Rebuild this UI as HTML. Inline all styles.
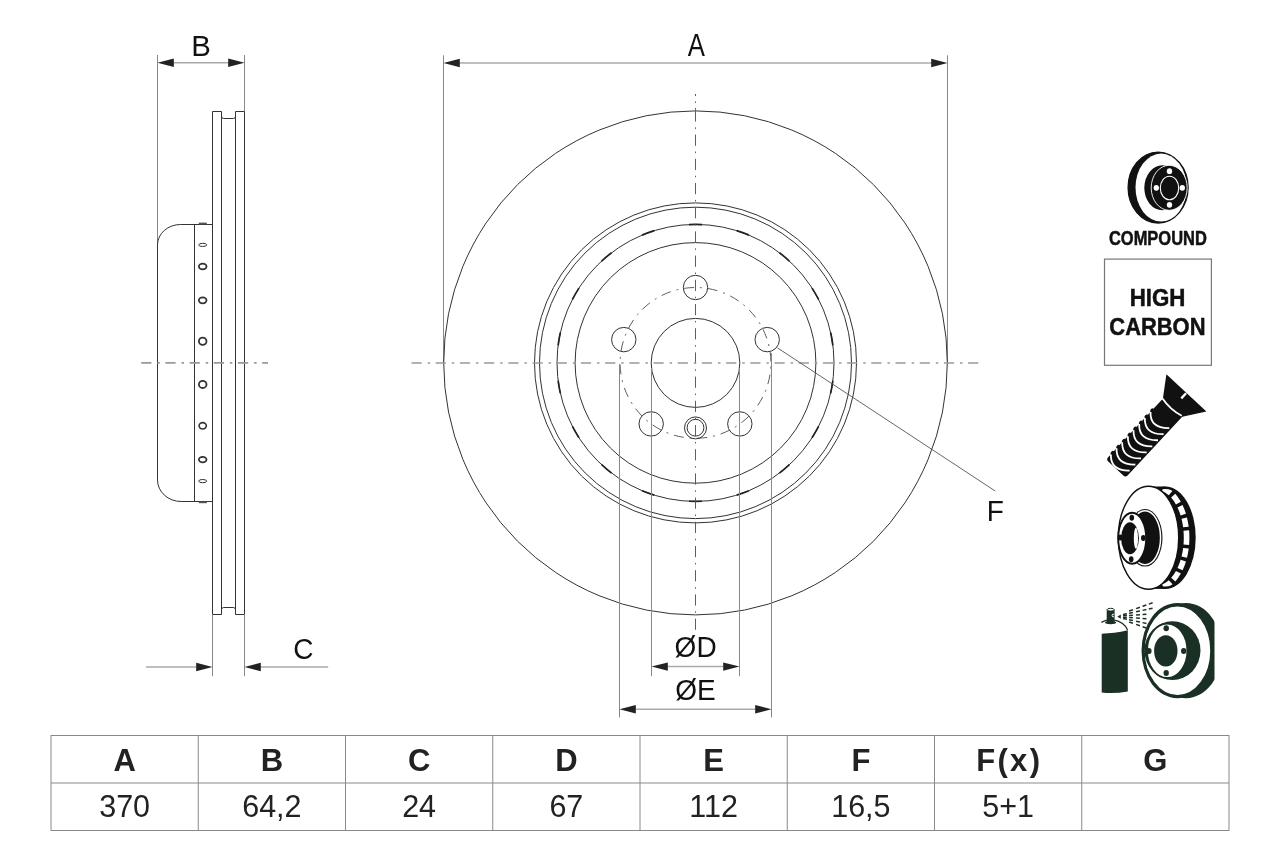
<!DOCTYPE html>
<html><head><meta charset="utf-8"><style>
html,body{margin:0;padding:0;background:#fff;width:1280px;height:853px;overflow:hidden}
svg{display:block;will-change:transform}
text{font-family:"Liberation Sans",sans-serif;fill:#111}
.lbl{font-size:28px}
.th{font-size:31px;font-weight:bold;fill:#222;letter-spacing:2.3px}
.td{font-size:30.5px;fill:#222}
.ic{font-size:19.5px;font-weight:bold;stroke:#111;stroke-width:0.5px}
.hc{font-size:24.5px;font-weight:bold;stroke:#111;stroke-width:0.5px}
</style></head><body>
<svg width="1280" height="853" viewBox="0 0 1280 853">
<rect width="1280" height="853" fill="#fff"/>
<line x1="157.5" y1="55" x2="157.5" y2="246" stroke="#888" stroke-width="1"/>
<line x1="244.5" y1="55" x2="244.5" y2="111.5" stroke="#888" stroke-width="1"/>
<line x1="170" y1="62.8" x2="232" y2="62.8" stroke="#aaaaaa" stroke-width="1.5"/>
<path d="M157.50,62.80 L173.80,58.60 L173.80,67.00 Z" fill="#222"/>
<path d="M244.50,62.80 L228.20,58.60 L228.20,67.00 Z" fill="#222"/>
<text class="lbl" text-anchor="middle" transform="translate(201,55.6) scale(1.05,1.08)">B</text>
<path d="M212.5,111.5 H221.5 V116.3 Q221.5,118.5 223.7,118.5 H233.3 Q235.5,118.5 235.5,116.3 V111.5 H244.5 V614.5 H235.5 V609.7 Q235.5,607.5 233.3,607.5 H223.7 Q221.5,607.5 221.5,609.7 V614.5 H212.5 Z" fill="none" stroke="#333" stroke-width="1"/>
<line x1="221.5" y1="116" x2="221.5" y2="610" stroke="#333" stroke-width="1"/>
<line x1="235.5" y1="116" x2="235.5" y2="610" stroke="#333" stroke-width="1"/>
<path d="M212.5,224.5 H180.6 A23.1,20.3 0 0 0 157.5,244.8 V479.9 A23.6,21.6 0 0 0 181.1,501.5 H212.5" fill="none" stroke="#333" stroke-width="1"/>
<line x1="194.5" y1="224.3" x2="194.5" y2="501.5" stroke="#333" stroke-width="1"/>
<rect x="198.8" y="222.6" width="8" height="1.8" fill="#555"/>
<rect x="198.8" y="501.4" width="8" height="1.8" fill="#555"/>
<ellipse cx="202.7" cy="244.9" rx="4" ry="1.6" fill="none" stroke="#333" stroke-width="1"/>
<ellipse cx="202.7" cy="266.5" rx="3.8" ry="2.8" fill="none" stroke="#333" stroke-width="1.8"/>
<ellipse cx="202.7" cy="300.3" rx="3.8" ry="3" fill="none" stroke="#333" stroke-width="1.8"/>
<ellipse cx="202.7" cy="341.3" rx="3.8" ry="3.6" fill="none" stroke="#333" stroke-width="1.8"/>
<ellipse cx="202.7" cy="384.4" rx="3.8" ry="3.6" fill="none" stroke="#333" stroke-width="1.8"/>
<ellipse cx="202.7" cy="425.8" rx="3.6" ry="3.2" fill="none" stroke="#333" stroke-width="1.6"/>
<ellipse cx="202.7" cy="459.6" rx="3.8" ry="2.8" fill="none" stroke="#333" stroke-width="1.8"/>
<ellipse cx="202.7" cy="481.1" rx="4" ry="1.6" fill="none" stroke="#333" stroke-width="1"/>
<line x1="141.2" y1="362.9" x2="268" y2="362.9" stroke="#999" stroke-width="1.6" stroke-dasharray="10.2,5.9,2.5,5.6"/>
<line x1="212.5" y1="614.5" x2="212.5" y2="676.2" stroke="#888" stroke-width="1"/>
<line x1="244.5" y1="614.5" x2="244.5" y2="676.2" stroke="#888" stroke-width="1"/>
<line x1="146" y1="667" x2="200" y2="667" stroke="#aaaaaa" stroke-width="1.5"/>
<line x1="257" y1="667" x2="328.2" y2="667" stroke="#aaaaaa" stroke-width="1.5"/>
<path d="M212.50,667.00 L196.20,662.80 L196.20,671.20 Z" fill="#222"/>
<path d="M244.50,667.00 L260.80,662.80 L260.80,671.20 Z" fill="#222"/>
<text class="lbl" text-anchor="middle" transform="translate(303.4,658.8) scale(1.0,1.08)">C</text>
<line x1="443.5" y1="55.3" x2="443.5" y2="362.9" stroke="#888" stroke-width="1"/>
<line x1="947.5" y1="55.3" x2="947.5" y2="362.9" stroke="#888" stroke-width="1"/>
<line x1="455" y1="63" x2="936" y2="63" stroke="#aaaaaa" stroke-width="1.5"/>
<path d="M443.50,63.00 L459.80,58.80 L459.80,67.20 Z" fill="#222"/>
<path d="M947.50,63.00 L931.20,58.80 L931.20,67.20 Z" fill="#222"/>
<text class="lbl" text-anchor="middle" transform="translate(696.4,56) scale(0.92,1.09)">A</text>
<ellipse cx="695.5" cy="362.9" rx="251.8" ry="252.0" fill="none" stroke="#333" stroke-width="1"/>
<ellipse cx="695.5" cy="362.9" rx="161.0" ry="160.0" fill="none" stroke="#333" stroke-width="1"/>
<ellipse cx="695.5" cy="362.9" rx="156.0" ry="155.7" fill="none" stroke="#333" stroke-width="1"/>
<ellipse cx="695.5" cy="362.9" rx="138.5" ry="138.5" fill="none" stroke="#333" stroke-width="1"/>
<ellipse cx="695.5" cy="362.9" rx="120.4" ry="120.3" fill="none" stroke="#333" stroke-width="1"/>
<ellipse cx="695.5" cy="362.9" rx="44.3" ry="44.5" fill="none" stroke="#333" stroke-width="1"/>
<path d="M832.87,345.28 A138.5,138.5 0 0 0 830.62,332.48" fill="none" stroke="#222" stroke-width="1.7"/>
<path d="M818.56,299.35 A138.5,138.5 0 0 0 812.06,288.10" fill="none" stroke="#222" stroke-width="1.7"/>
<path d="M789.41,261.10 A138.5,138.5 0 0 0 779.45,252.74" fill="none" stroke="#222" stroke-width="1.7"/>
<path d="M748.92,235.12 A138.5,138.5 0 0 0 736.71,230.67" fill="none" stroke="#222" stroke-width="1.7"/>
<path d="M702.00,224.55 A138.5,138.5 0 0 0 689.00,224.55" fill="none" stroke="#222" stroke-width="1.7"/>
<path d="M654.29,230.67 A138.5,138.5 0 0 0 642.08,235.12" fill="none" stroke="#222" stroke-width="1.7"/>
<path d="M611.55,252.74 A138.5,138.5 0 0 0 601.59,261.10" fill="none" stroke="#222" stroke-width="1.7"/>
<path d="M578.94,288.10 A138.5,138.5 0 0 0 572.44,299.35" fill="none" stroke="#222" stroke-width="1.7"/>
<path d="M560.38,332.48 A138.5,138.5 0 0 0 558.13,345.28" fill="none" stroke="#222" stroke-width="1.7"/>
<path d="M558.13,380.52 A138.5,138.5 0 0 0 560.38,393.32" fill="none" stroke="#222" stroke-width="1.7"/>
<path d="M572.44,426.45 A138.5,138.5 0 0 0 578.94,437.70" fill="none" stroke="#222" stroke-width="1.7"/>
<path d="M601.59,464.70 A138.5,138.5 0 0 0 611.55,473.06" fill="none" stroke="#222" stroke-width="1.7"/>
<path d="M642.08,490.68 A138.5,138.5 0 0 0 654.29,495.13" fill="none" stroke="#222" stroke-width="1.7"/>
<path d="M689.00,501.25 A138.5,138.5 0 0 0 702.00,501.25" fill="none" stroke="#222" stroke-width="1.7"/>
<path d="M736.71,495.13 A138.5,138.5 0 0 0 748.92,490.68" fill="none" stroke="#222" stroke-width="1.7"/>
<path d="M779.45,473.06 A138.5,138.5 0 0 0 789.41,464.70" fill="none" stroke="#222" stroke-width="1.7"/>
<path d="M812.06,437.70 A138.5,138.5 0 0 0 818.56,426.45" fill="none" stroke="#222" stroke-width="1.7"/>
<path d="M830.62,393.32 A138.5,138.5 0 0 0 832.87,380.52" fill="none" stroke="#222" stroke-width="1.7"/>
<circle cx="695.5" cy="362.9" r="75.4" fill="none" stroke="#555" stroke-width="0.95" stroke-dasharray="9.9,5.9,2,5.89" stroke-dashoffset="12"/>
<circle cx="695.50" cy="287.50" r="12.2" fill="none" stroke="#333" stroke-width="1"/>
<circle cx="767.21" cy="339.60" r="12.2" fill="none" stroke="#333" stroke-width="1"/>
<circle cx="739.82" cy="423.90" r="12.2" fill="none" stroke="#333" stroke-width="1"/>
<circle cx="651.18" cy="423.90" r="12.2" fill="none" stroke="#333" stroke-width="1"/>
<circle cx="623.79" cy="339.60" r="12.2" fill="none" stroke="#333" stroke-width="1"/>
<circle cx="695.5" cy="427.9" r="11.0" fill="none" stroke="#333" stroke-width="1"/>
<circle cx="695.5" cy="427.7" r="8.4" fill="none" stroke="#333" stroke-width="1"/>
<line x1="695.5" y1="110.4" x2="695.5" y2="630" stroke="#555" stroke-width="0.95" stroke-dasharray="11.2,5.75,1.5,5.75"/>
<line x1="695.5" y1="94" x2="695.5" y2="110.4" stroke="#555" stroke-width="0.95" stroke-dasharray="2,5.4,1.5,5"/>
<line x1="411.5" y1="363" x2="978.7" y2="363" stroke="#999" stroke-width="1.6" stroke-dasharray="10.2,5.9,2.5,5.6"/>
<line x1="651.5" y1="368" x2="651.5" y2="676.2" stroke="#888" stroke-width="1"/>
<line x1="739.5" y1="368" x2="739.5" y2="676.2" stroke="#888" stroke-width="1"/>
<line x1="663" y1="666.6" x2="728" y2="666.6" stroke="#aaaaaa" stroke-width="1.5"/>
<path d="M651.50,666.60 L667.80,662.40 L667.80,670.80 Z" fill="#222"/>
<path d="M739.50,666.60 L723.20,662.40 L723.20,670.80 Z" fill="#222"/>
<line x1="619.5" y1="364" x2="619.5" y2="717.3" stroke="#888" stroke-width="1"/>
<line x1="771.5" y1="353" x2="771.5" y2="717.3" stroke="#888" stroke-width="1"/>
<line x1="631" y1="709.2" x2="760" y2="709.2" stroke="#aaaaaa" stroke-width="1.5"/>
<path d="M619.50,709.20 L635.80,705.00 L635.80,713.40 Z" fill="#222"/>
<path d="M771.50,709.20 L755.20,705.00 L755.20,713.40 Z" fill="#222"/>
<text class="lbl" text-anchor="middle" transform="translate(695.6,656.9) scale(1.0,1.05)">ØD</text>
<text class="lbl" text-anchor="middle" transform="translate(695.5,699.6) scale(1.0,1.05)">ØE</text>
<line x1="777.5" y1="347.9" x2="995.2" y2="491" stroke="#555" stroke-width="0.9"/>
<text class="lbl" text-anchor="middle" transform="translate(995.2,520.6) scale(1.0,1.05)">F</text>
<rect x="51.0" y="735.5" width="1178.00" height="95" fill="none" stroke="#8a8a8a" stroke-width="1"/>
<line x1="51.0" y1="783" x2="1229.0" y2="783" stroke="#8a8a8a" stroke-width="1"/>
<text x="125.78" y="770.5" class="th" text-anchor="middle">A</text>
<text x="124.62" y="817.2" class="td" text-anchor="middle">370</text>
<line x1="198.25" y1="735.5" x2="198.25" y2="830.5" stroke="#8a8a8a" stroke-width="1"/>
<text x="273.02" y="770.5" class="th" text-anchor="middle">B</text>
<text x="271.88" y="817.2" class="td" text-anchor="middle">64,2</text>
<line x1="345.50" y1="735.5" x2="345.50" y2="830.5" stroke="#8a8a8a" stroke-width="1"/>
<text x="420.27" y="770.5" class="th" text-anchor="middle">C</text>
<text x="419.12" y="817.2" class="td" text-anchor="middle">24</text>
<line x1="492.75" y1="735.5" x2="492.75" y2="830.5" stroke="#8a8a8a" stroke-width="1"/>
<text x="567.52" y="770.5" class="th" text-anchor="middle">D</text>
<text x="566.38" y="817.2" class="td" text-anchor="middle">67</text>
<line x1="640.00" y1="735.5" x2="640.00" y2="830.5" stroke="#8a8a8a" stroke-width="1"/>
<text x="714.77" y="770.5" class="th" text-anchor="middle">E</text>
<text x="713.62" y="817.2" class="td" text-anchor="middle">112</text>
<line x1="787.25" y1="735.5" x2="787.25" y2="830.5" stroke="#8a8a8a" stroke-width="1"/>
<text x="862.02" y="770.5" class="th" text-anchor="middle">F</text>
<text x="860.88" y="817.2" class="td" text-anchor="middle">16,5</text>
<line x1="934.50" y1="735.5" x2="934.50" y2="830.5" stroke="#8a8a8a" stroke-width="1"/>
<text x="1009.27" y="770.5" class="th" text-anchor="middle">F(x)</text>
<text x="1008.12" y="817.2" class="td" text-anchor="middle">5+1</text>
<line x1="1081.75" y1="735.5" x2="1081.75" y2="830.5" stroke="#8a8a8a" stroke-width="1"/>
<text x="1156.53" y="770.5" class="th" text-anchor="middle">G</text>
<g fill="#111">
<ellipse cx="1158.1" cy="187.6" rx="30.0" ry="35.5" stroke="#111" stroke-width="1.3"/>
<ellipse cx="1161.1" cy="187.6" rx="25.6" ry="34.0" fill="#fff"/>
<ellipse cx="1162.3" cy="187.8" rx="18" ry="22.5"/>
<ellipse cx="1169.2" cy="187.8" rx="18" ry="22.5" stroke="#fff" stroke-width="0.9"/>
<ellipse cx="1169.5" cy="188" rx="9.2" ry="11.8" fill="none" stroke="#fff" stroke-width="1.1"/>
<ellipse cx="1169.5" cy="171.2" rx="2.7" ry="2.9" fill="#fff"/>
<ellipse cx="1169.5" cy="204.8" rx="2.7" ry="2.9" fill="#fff"/>
<ellipse cx="1156.3" cy="187.8" rx="2.7" ry="2.9" fill="#fff"/>
<ellipse cx="1182.3" cy="187.8" rx="2.7" ry="2.9" fill="#fff"/>
</g>
<text x="0" y="0" class="ic" transform="translate(1157.9,244.6) scale(0.845,1)" text-anchor="middle">COMPOUND</text>
<rect x="1104.5" y="259.1" width="106.9" height="106.2" fill="none" stroke="#777" stroke-width="1.2"/>
<text x="0" y="0" class="hc" transform="translate(1157.5,306.1) scale(0.91,1)" text-anchor="middle">HIGH</text>
<text x="0" y="0" class="hc" transform="translate(1157.4,334.5) scale(0.895,1)" text-anchor="middle">CARBON</text>
<g fill="#111" transform="translate(1186.4,392.9) rotate(43)"><path d="M-27.35,0 L27.35,0 L13.3,20.2 L-13.3,20.2 Z"/><path d="M-13.3,19 H13.3 V100.5 Q13.3,103.5 10.3,103.5 H-10.3 Q-13.3,103.5 -13.3,100.5 Z"/><path d="M-13.9,20.4 Q0,23.5 12.2,19.9" fill="none" stroke="#fff" stroke-width="1.8"/><line x1="0" y1="0.5" x2="0" y2="7.5" stroke="#fff" stroke-width="2.3"/><ellipse cx="-13.2" cy="36.20" rx="1.6" ry="2.2"/><path d="M-13.3,38.40 Q-2.3,50.90 11.5,37.40" fill="none" stroke="#fff" stroke-width="1.8"/><ellipse cx="-13.2" cy="44.50" rx="1.6" ry="2.2"/><path d="M-13.3,46.70 Q-2.3,59.20 11.5,45.70" fill="none" stroke="#fff" stroke-width="1.8"/><ellipse cx="-13.2" cy="52.80" rx="1.6" ry="2.2"/><path d="M-13.3,55.00 Q-2.3,67.50 11.5,54.00" fill="none" stroke="#fff" stroke-width="1.8"/><ellipse cx="-13.2" cy="61.10" rx="1.6" ry="2.2"/><path d="M-13.3,63.30 Q-2.3,75.80 11.5,62.30" fill="none" stroke="#fff" stroke-width="1.8"/><ellipse cx="-13.2" cy="69.40" rx="1.6" ry="2.2"/><path d="M-13.3,71.60 Q-2.3,84.10 11.5,70.60" fill="none" stroke="#fff" stroke-width="1.8"/><ellipse cx="-13.2" cy="77.70" rx="1.6" ry="2.2"/><path d="M-13.3,79.90 Q-2.3,92.40 11.5,78.90" fill="none" stroke="#fff" stroke-width="1.8"/><ellipse cx="-13.2" cy="86.00" rx="1.6" ry="2.2"/><path d="M-13.3,88.20 Q-2.3,100.70 11.5,87.20" fill="none" stroke="#fff" stroke-width="1.8"/><ellipse cx="-13.2" cy="94.30" rx="1.6" ry="2.2"/><path d="M-13.3,96.50 Q-2.3,109.00 11.5,95.50" fill="none" stroke="#fff" stroke-width="1.8"/></g>
<g fill="#111">
<ellipse cx="1165.5" cy="537.7" rx="30.2" ry="51.2"/>
<rect x="1148.5" y="486.5" width="17" height="102.4"/>
<clipPath id="vc"><ellipse cx="1165.5" cy="537.7" rx="28.2" ry="48.8"/><rect x="1148.5" y="489.2" width="17" height="97"/></clipPath><ellipse cx="1156.4" cy="537.7" rx="30.2" ry="50.5" fill="none" stroke="#fff" stroke-width="5.6" stroke-dasharray="9,3.6" stroke-dashoffset="2" clip-path="url(#vc)"/>
<ellipse cx="1148.5" cy="537.7" rx="30.2" ry="51.5" fill="#fff" stroke="#111" stroke-width="1.4"/>
<ellipse cx="1145" cy="537.8" rx="17.5" ry="28.8"/>
<ellipse cx="1145" cy="537.8" rx="15.6" ry="27.0" fill="none" stroke="#fff" stroke-width="1.5"/>
<ellipse cx="1132.2" cy="538.2" rx="14" ry="25.5" fill="#fff" stroke="#111" stroke-width="1.9"/>
<ellipse cx="1130" cy="538.3" rx="8.9" ry="16"/>
<ellipse cx="1135.9" cy="538.3" rx="2.1" ry="10.5" fill="#fff"/>
<ellipse cx="1131.8" cy="517.7" rx="2.3" ry="3"/>
<ellipse cx="1131.2" cy="559.2" rx="2.3" ry="3"/>
<ellipse cx="1143.3" cy="538.1" rx="2.3" ry="3"/>
<ellipse cx="1120.3" cy="537.4" rx="2.3" ry="3"/>
</g>
<g fill="#1b3024">
<line x1="1123.10" y1="614.48" x2="1126.90" y2="613.69" stroke="#1b3024" stroke-width="1.5"/>
<line x1="1123.10" y1="615.83" x2="1126.90" y2="615.56" stroke="#1b3024" stroke-width="1.5"/>
<line x1="1123.10" y1="617.17" x2="1126.90" y2="617.44" stroke="#1b3024" stroke-width="1.5"/>
<line x1="1123.10" y1="618.52" x2="1126.90" y2="619.31" stroke="#1b3024" stroke-width="1.5"/>
<line x1="1129.10" y1="611.04" x2="1132.90" y2="609.71" stroke="#1b3024" stroke-width="1.5"/>
<line x1="1129.10" y1="613.22" x2="1132.90" y2="612.43" stroke="#1b3024" stroke-width="1.5"/>
<line x1="1129.10" y1="615.41" x2="1132.90" y2="615.14" stroke="#1b3024" stroke-width="1.5"/>
<line x1="1129.10" y1="617.59" x2="1132.90" y2="617.86" stroke="#1b3024" stroke-width="1.5"/>
<line x1="1129.10" y1="619.78" x2="1132.90" y2="620.57" stroke="#1b3024" stroke-width="1.5"/>
<line x1="1129.10" y1="621.96" x2="1132.90" y2="623.29" stroke="#1b3024" stroke-width="1.5"/>
<line x1="1136.10" y1="608.59" x2="1139.90" y2="607.26" stroke="#1b3024" stroke-width="1.5"/>
<line x1="1136.10" y1="611.75" x2="1139.90" y2="610.96" stroke="#1b3024" stroke-width="1.5"/>
<line x1="1136.10" y1="614.92" x2="1139.90" y2="614.65" stroke="#1b3024" stroke-width="1.5"/>
<line x1="1136.10" y1="618.08" x2="1139.90" y2="618.35" stroke="#1b3024" stroke-width="1.5"/>
<line x1="1136.10" y1="621.25" x2="1139.90" y2="622.04" stroke="#1b3024" stroke-width="1.5"/>
<line x1="1136.10" y1="624.41" x2="1139.90" y2="625.74" stroke="#1b3024" stroke-width="1.5"/>
<line x1="1142.60" y1="606.32" x2="1146.40" y2="604.99" stroke="#1b3024" stroke-width="1.5"/>
<line x1="1142.60" y1="610.39" x2="1146.40" y2="609.59" stroke="#1b3024" stroke-width="1.5"/>
<line x1="1142.60" y1="614.46" x2="1146.40" y2="614.20" stroke="#1b3024" stroke-width="1.5"/>
<line x1="1142.60" y1="618.54" x2="1146.40" y2="618.80" stroke="#1b3024" stroke-width="1.5"/>
<line x1="1142.60" y1="622.61" x2="1146.40" y2="623.41" stroke="#1b3024" stroke-width="1.5"/>
<line x1="1142.60" y1="626.68" x2="1146.40" y2="628.01" stroke="#1b3024" stroke-width="1.5"/>
<line x1="1148.80" y1="604.14" x2="1152.60" y2="602.81" stroke="#1b3024" stroke-width="1.5"/>
<line x1="1148.80" y1="609.09" x2="1152.60" y2="608.29" stroke="#1b3024" stroke-width="1.5"/>
<path d="M1117.3,616.7 L1120.8,614.6 L1120.8,618.8 Z"/>
<defs><clipPath id="cl"><rect x="1130" y="590" width="84.5" height="120"/></clipPath></defs>
<ellipse cx="1186" cy="650.6" rx="36" ry="47.6" clip-path="url(#cl)"/>
<ellipse cx="1177.3" cy="650.6" rx="35.8" ry="47.6"/>
<ellipse cx="1177.5" cy="650.7" rx="33.4" ry="45.0" fill="#fff" stroke="#1b3024" stroke-width="1.4"/>
<ellipse cx="1172.5" cy="650.6" rx="28" ry="29.4"/>
<ellipse cx="1167.2" cy="650.8" rx="20.2" ry="27.2" fill="#fff" stroke="#1b3024" stroke-width="1.8"/>
<ellipse cx="1165.8" cy="650.9" rx="11.7" ry="15.7"/>
<ellipse cx="1166.2" cy="628.2" rx="2.7" ry="3"/>
<ellipse cx="1166.2" cy="673.1" rx="2.7" ry="3"/>
<ellipse cx="1148.9" cy="650.9" rx="2.7" ry="3"/>
<ellipse cx="1183.7" cy="650.9" rx="2.7" ry="3"/>
<path d="M1101.7,633.7 Q1114,633.5 1127.8,630.3 V691.5 Q1114,694 1101.7,692.5 Z"/>
<path d="M1101.4,622.4 Q1104,621 1107,620.2" fill="none" stroke="#1b3024" stroke-width="1.2"/>
<path d="M1114.3,620.2 Q1124,622 1127.6,630" fill="none" stroke="#1b3024" stroke-width="1.3"/>
<rect x="1106.7" y="609.6" width="7.9" height="12.5"/>
<ellipse cx="1110.6" cy="622.6" rx="5.6" ry="1.7"/>
<ellipse cx="1110.65" cy="609.7" rx="3.5" ry="1.4" fill="#fff" stroke="#1b3024" stroke-width="1"/>
<path d="M1113.9,614.3 A1.3,1.3 0 1 0 1113.9,616.7" fill="none" stroke="#fff" stroke-width="1"/>
</g>
</svg>
</body></html>
